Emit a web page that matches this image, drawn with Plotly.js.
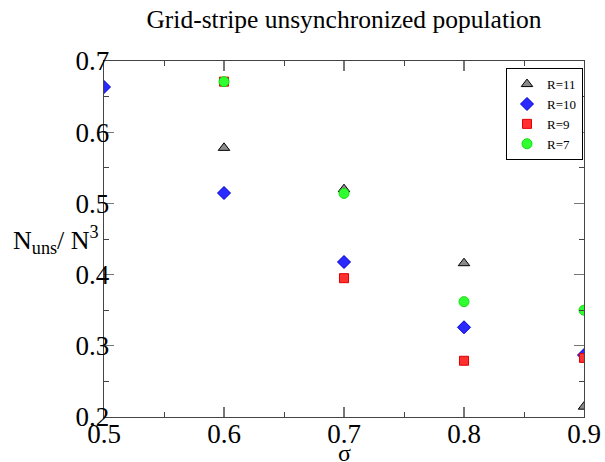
<!DOCTYPE html>
<html>
<head>
<meta charset="utf-8">
<script src="https://cdn.plot.ly/plotly-3.0.1.min.js"></script>
<style>html,body{margin:0;padding:0;background:#fff;}#plot{width:605px;height:462px;}</style>
</head>
<body>
<div id="plot"></div>
<script>
const sigmaR11 = [0.6, 0.7, 0.8, 0.9];
const valR11 = [0.578, 0.520, 0.416, 0.2145];
const sigmaR10 = [0.5, 0.6, 0.7, 0.8, 0.9];
const valR10 = [0.6635, 0.5146, 0.4177, 0.326, 0.287];
const sigmaR9 = [0.6, 0.7, 0.8, 0.9];
const valR9 = [0.671, 0.395, 0.279, 0.283];
const sigmaR7 = [0.6, 0.7, 0.8, 0.9];
const valR7 = [0.671, 0.514, 0.362, 0.350];
const xTicks = [0.5, 0.6, 0.7, 0.8, 0.9];
const yTicks = [0.2, 0.3, 0.4, 0.5, 0.6, 0.7];

const FONT = 'Liberation Serif';

const traces = [
  {name: 'R=11', x: sigmaR11, y: valR11, mode: 'markers', type: 'scatter',
   marker: {symbol: 'triangle-up', size: 10, color: '#8a8a8a', line: {color: '#000', width: 1}}},
  {name: 'R=10', x: sigmaR10, y: valR10, mode: 'markers', type: 'scatter',
   marker: {symbol: 'diamond', size: 10, color: '#2a2aff', line: {color: '#0000cc', width: 1}}},
  {name: 'R=9', x: sigmaR9, y: valR9, mode: 'markers', type: 'scatter',
   marker: {symbol: 'square', size: 9, color: '#ff3030', line: {color: '#e00000', width: 1}}},
  {name: 'R=7', x: sigmaR7, y: valR7, mode: 'markers', type: 'scatter',
   marker: {symbol: 'circle', size: 10, color: '#30ff30', line: {color: '#10dd10', width: 1}}}
];

const axisCommon = {
  showgrid: false, zeroline: false, showline: true, linecolor: '#444', linewidth: 1.3,
  mirror: 'ticks', ticks: 'inside', ticklen: 10, tickwidth: 1.3, tickcolor: '#777',
  tickfont: {family: FONT, size: 27, color: '#000'},
  minor: {dtick: 0.05, ticks: 'inside', ticklen: 5, tickwidth: 1, tickcolor: '#444'}
};

const layout = {
  width: 605, height: 462,
  margin: {l: 104, r: 21, t: 61, b: 45},
  paper_bgcolor: '#fff', plot_bgcolor: '#fff',
  showlegend: true,
  title: {text: 'Grid-stripe unsynchronized population', font: {family: FONT, size: 25.5, color: '#000'},
          x: 0.5, xref: 'paper', y: 0.959, yref: 'container', yanchor: 'middle'},
  xaxis: Object.assign({}, axisCommon, {range: [0.5, 0.9], tickvals: xTicks, ticktext: xTicks.map(v => v.toFixed(1)), ticklabelstandoff: -8}),
  yaxis: Object.assign({}, axisCommon, {range: [0.2, 0.7], tickvals: yTicks, ticktext: yTicks.map(v => v.toFixed(1)), ticklabelstandoff: -12}),
  legend: {x: 0.8375, y: 0.98, xanchor: 'left', yanchor: 'top', bgcolor: '#fff',
           bordercolor: '#000', borderwidth: 1, font: {family: FONT, size: 13, color: '#000'},
           tracegroupgap: 0, itemwidth: 30},
  annotations: [
    {text: 'N<sub>uns</sub>/ N<sup>3</sup>', xref: 'paper', yref: 'paper', x: -0.006, y: 0.497,
     xanchor: 'right', yanchor: 'middle', showarrow: false, font: {family: FONT, size: 26, color: '#000'}},
    {text: 'σ', xref: 'paper', yref: 'paper', x: 0.5, y: -0.1, xanchor: 'center', yanchor: 'middle',
     showarrow: false, font: {family: FONT, size: 24, color: '#000'}}
  ]
};

Plotly.newPlot('plot', traces, layout, {displayModeBar: false, staticPlot: true});
</script>
</body>
</html>
